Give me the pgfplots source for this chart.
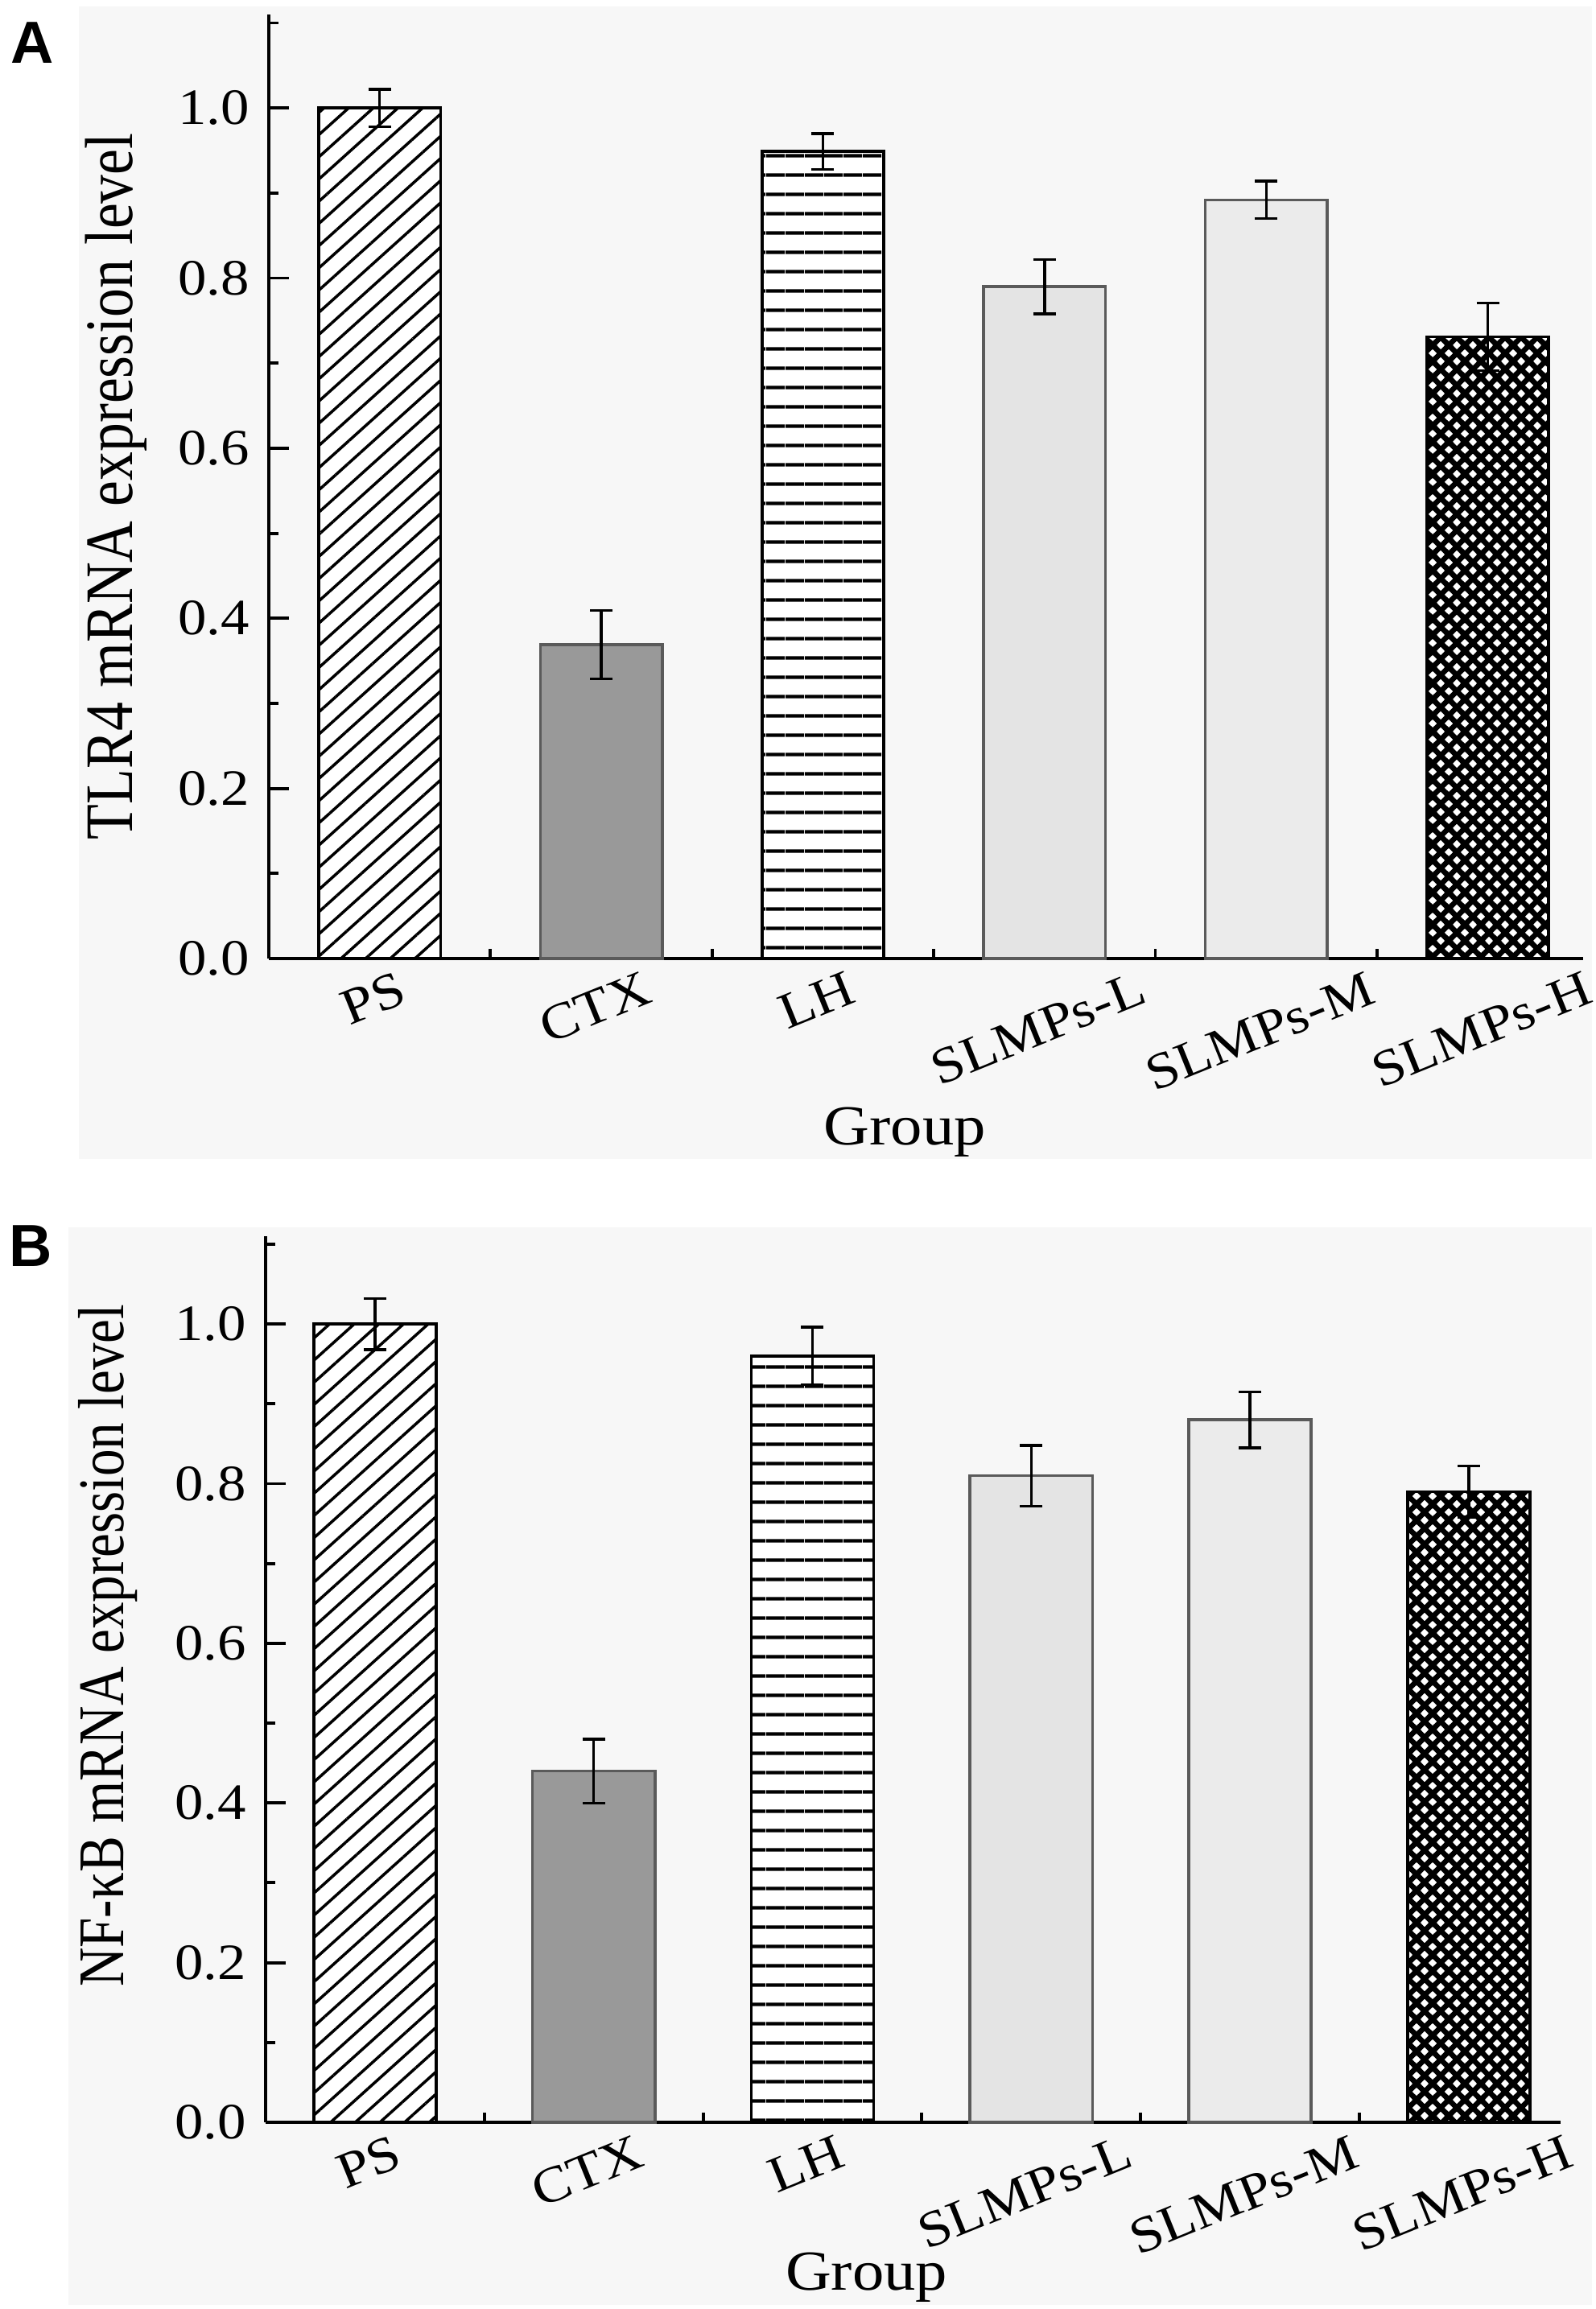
\documentclass[border=0pt]{standalone}
\usepackage{fontspec}
\setmainfont{Liberation Serif}
\setsansfont{Liberation Sans}
\newfontfamily\wideserif{Liberation Serif}[FakeStretch=1.12]
\newfontfamily\condserif{Liberation Serif}[FakeStretch=0.83]
\newfontfamily\condserifA{Liberation Serif}[FakeStretch=0.85]
\usepackage{graphicx}
\usepackage{pgfplots}
\pgfplotsset{compat=1.18}
\usetikzlibrary{patterns,patterns.meta}
\definecolor{panelbg}{HTML}{F7F7F7}
\definecolor{ctxgray}{HTML}{999999}
\definecolor{lgray}{HTML}{E4E4E4}
\definecolor{mgray}{HTML}{EBEBEB}
\definecolor{edgegray}{HTML}{5A5A5A}
\tikzdeclarepattern{
  name=mesh,
  type=uncolored,
  bottom left={(-0.6mm,-0.6mm)},
  top right={(2.6mm,2.6mm)},
  tile size={(2mm,2mm)},
  code={
    \draw[line width=1.9pt] (-0.6mm,-0.6mm) -- (2.6mm,2.6mm);
    \draw[line width=1.9pt] (-0.6mm,2.6mm) -- (2.6mm,-0.6mm);
  }
}
\pgfplotsset{
  myaxis/.style={
    scale only axis,
    anchor=south west,
    axis x line*=bottom,
    axis y line*=left,
    axis line style={line width=1.25pt, black},
    ymin=0, ymax=1.11,
    xmin=-0.5,
    xtick={0,1,2,3,4,5},
    minor xtick={0.5,1.5,2.5,3.5,4.5},
    ytick={0,0.2,0.4,0.6,0.8,1.0},
    minor ytick={0.1,0.3,0.5,0.7,0.9,1.1},
    tick align=inside,
    major tick length=0.25cm,
    minor tick length=0.12cm,
    every tick/.style={black, line width=1.1pt},
    xticklabels={\rotatebox{22}{PS},\rotatebox{22}{CTX},\rotatebox{22}{LH},\rotatebox{22}{SLMPs-L},\rotatebox{22}{SLMPs-M},\rotatebox{22}{SLMPs-H}},
    xticklabel style={anchor=north, inner sep=0pt, yshift=-0.14cm, xshift=-0.08cm, font=\wideserif\fontsize{18}{21}\selectfont},
    yticklabel style={xshift=-0.12cm, font=\wideserif\fontsize{18}{21}\selectfont,
      /pgf/number format/fixed, /pgf/number format/precision=1,
      /pgf/number format/fixed zerofill, /pgf/number format/assume math mode=true},
    xlabel style={anchor=base, font=\wideserif\fontsize{20}{24}\selectfont},
    ylabel style={anchor=base},
    clip=false,
  },
  errstyle/.style={
    error bars/.cd, y dir=both, y explicit,
    error bar style={line width=0.95pt, black},
    error mark options={rotate=90, mark size=0.14cm, line width=0.95pt, black},
  },
  hatchA/.style={postaction={pattern={Lines[angle=42,distance=2.05mm,line width=1pt]}, pattern color=black}},
  hatchH/.style={postaction={pattern={Lines[angle=0,distance=2.35mm,line width=1.2pt]}, pattern color=black}},
}
\begin{document}
\begin{tikzpicture}
\useasboundingbox (0cm,0cm) rectangle (19.83cm,28.69cm);
\fill[white] (0cm,0cm) rectangle (19.83cm,28.69cm);
\fill[panelbg] (0.98cm,14.29cm) rectangle (19.78cm,28.61cm);
\fill[panelbg] (0.85cm,0.05cm) rectangle (19.78cm,13.44cm);
\node[anchor=north west, inner sep=0pt, font=\sffamily\bfseries\fontsize{21}{24}\selectfont] at (0.13cm,28.42cm) {A};
\node[anchor=north west, inner sep=0pt, font=\sffamily\bfseries\fontsize{21}{24}\selectfont] at (0.11cm,13.47cm) {B};

% Panel A
\begin{axis}[myaxis,
  at={(3.34cm,16.78cm)}, width=16.33cm, height=11.73cm, xmax=5.43,
  xlabel={Group}, xlabel style={at={(axis description cs:0.484,-0.197)}},
  ylabel={TLR4 mRNA expression level},
  ylabel style={at={(axis description cs:-0.1035,0.50)}, font=\condserifA\fontsize{24}{27}\selectfont},
]
\addplot[ybar, bar width=0.55, bar shift=0pt, draw=black, line width=1.05pt, fill=white, hatchA, errstyle]
  coordinates {(0,1.00) +- (0,0.022)};
\addplot[ybar, bar width=0.55, bar shift=0pt, draw=edgegray, line width=1pt, fill=ctxgray, errstyle]
  coordinates {(1,0.369) +- (0,0.040)};
\addplot[ybar, bar width=0.55, bar shift=0pt, draw=black, line width=1.05pt, fill=white, hatchH, errstyle]
  coordinates {(2,0.949) +- (0,0.021)};
\addplot[ybar, bar width=0.55, bar shift=0pt, draw=edgegray, line width=1pt, fill=lgray, errstyle]
  coordinates {(3,0.790) +- (0,0.032)};
\addplot[ybar, bar width=0.55, bar shift=0pt, draw=edgegray, line width=1pt, fill=mgray, errstyle]
  coordinates {(4,0.892) +- (0,0.022)};
\addplot[ybar, bar width=0.55, bar shift=0pt, draw=black, line width=1.05pt, fill=white,
  postaction={pattern=mesh, pattern color=black}, errstyle]
  coordinates {(5,0.731) +- (0,0.040)};
\end{axis}

% Panel B
\begin{axis}[myaxis,
  at={(3.30cm,2.32cm)}, width=16.09cm, height=11.01cm, xmax=5.42,
  xlabel={Group}, xlabel style={at={(axis description cs:0.464,-0.189)}},
  ylabel={NF-κB mRNA expression level},
  ylabel style={at={(axis description cs:-0.1094,0.538)}, font=\condserif\fontsize{23}{26}\selectfont},
]
\addplot[ybar, bar width=0.56, bar shift=0pt, draw=black, line width=1.05pt, fill=white, hatchA, errstyle]
  coordinates {(0,1.00) +- (0,0.032)};
\addplot[ybar, bar width=0.56, bar shift=0pt, draw=edgegray, line width=1pt, fill=ctxgray, errstyle]
  coordinates {(1,0.44) +- (0,0.040)};
\addplot[ybar, bar width=0.56, bar shift=0pt, draw=black, line width=1.05pt, fill=white, hatchH, errstyle]
  coordinates {(2,0.96) +- (0,0.036)};
\addplot[ybar, bar width=0.56, bar shift=0pt, draw=edgegray, line width=1pt, fill=lgray, errstyle]
  coordinates {(3,0.81) +- (0,0.038)};
\addplot[ybar, bar width=0.56, bar shift=0pt, draw=edgegray, line width=1pt, fill=mgray, errstyle]
  coordinates {(4,0.88) +- (0,0.035)};
\addplot[ybar, bar width=0.56, bar shift=0pt, draw=black, line width=1.05pt, fill=white,
  postaction={pattern=mesh, pattern color=black}, errstyle]
  coordinates {(5,0.79) +- (0,0.032)};
\end{axis}
\end{tikzpicture}
\end{document}
